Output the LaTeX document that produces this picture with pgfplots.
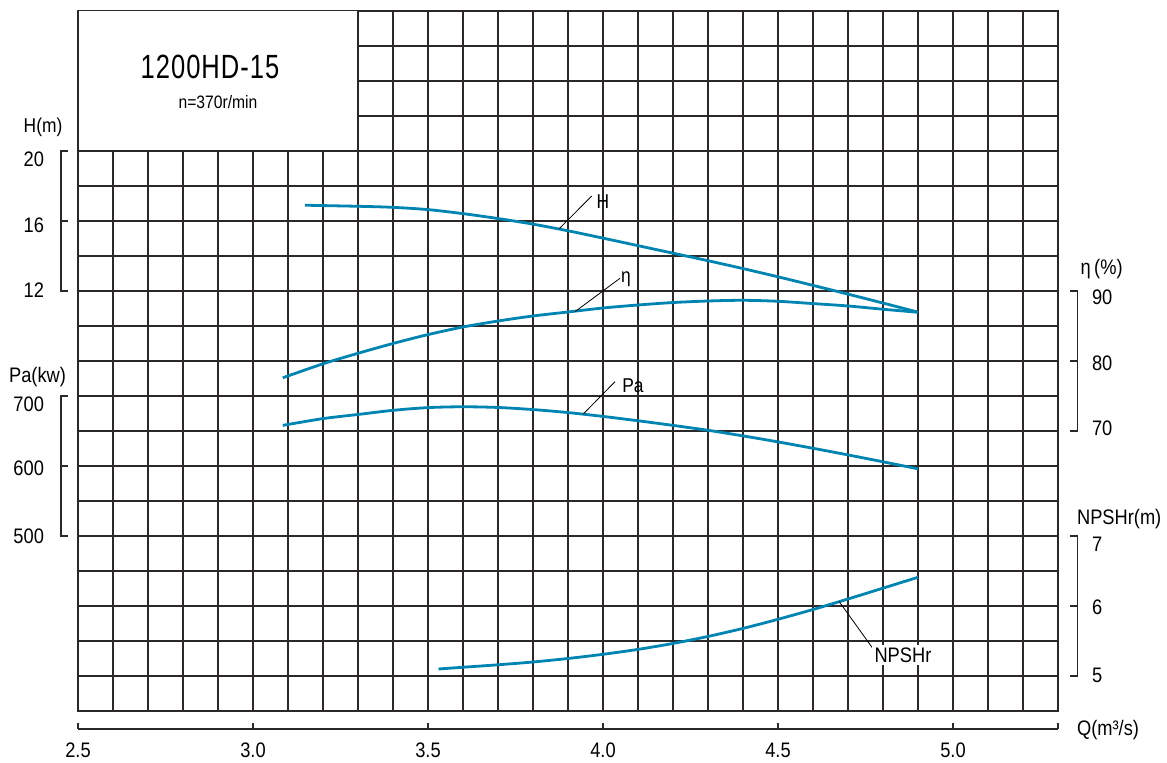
\documentclass[border=0pt]{standalone}
\usepackage{pgfplots}
\pgfplotsset{compat=1.18}
\usepackage{pgfplotstable}
\usepackage{fontspec}
\setmainfont[FakeStretch=0.87]{Liberation Sans}
\newfontfamily\titlefont[FakeStretch=0.76,LetterSpace=3]{Liberation Sans}
\definecolor{gridc}{RGB}{45,40,40}
\definecolor{curve}{RGB}{0,132,178}

% Q (m3/s) vs H (m)
\pgfplotstableread{
Q H
3.149 16.90
3.3 16.84
3.4 16.78
3.5 16.65
3.6 16.42
3.7 16.14
3.8 15.82
3.9 15.44
4.0 15.02
4.1 14.59
4.2 14.16
4.3 13.73
4.4 13.28
4.5 12.81
4.6 12.32
4.7 11.82
4.8 11.31
4.9 10.79
}\Hdata
% Q vs efficiency (%)
\pgfplotstableread{
Q E
3.085 77.6
3.2 79.6
3.3 81.1
3.4 82.5
3.5 83.77
3.6 84.86
3.7 85.71
3.8 86.43
3.9 87.0
4.0 87.57
4.1 88.0
4.2 88.35
4.3 88.57
4.4 88.67
4.5 88.53
4.6 88.2
4.7 87.86
4.8 87.39
4.9 86.96
}\Edata
% Q vs shaft power Pa (kW)
\pgfplotstableread{
Q P
3.085 658
3.2 667.7
3.3 673.6
3.4 679.5
3.5 683.4
3.6 684.6
3.7 683.6
3.8 680.6
3.9 676.3
4.0 670.8
4.1 664.6
4.2 658
4.3 651
4.4 643
4.5 634.4
4.6 625.3
4.7 615.8
4.8 606
4.9 596
}\Pdata
% Q vs NPSHr (m)
\pgfplotstableread{
Q N
3.53 5.10
3.6 5.125
3.7 5.16
3.8 5.20
3.9 5.25
4.0 5.31
4.1 5.38
4.2 5.465
4.3 5.565
4.4 5.68
4.5 5.81
4.6 5.95
4.7 6.10
4.8 6.255
4.9 6.41
}\Ndata

\begin{document}
\begin{tikzpicture}
\begin{axis}[
  x=175pt, y=17.5pt,
  xmin=2.5, xmax=5.3, ymin=0, ymax=20,
  xtick distance=0.1, ytick distance=1,
  grid=major,
  major grid style={draw=gridc, line width=0.6pt},
  axis line style={draw=gridc, line width=0.6pt},
  major tick length=0pt,
  xticklabels={}, yticklabels={},
  clip=false,
]
% title box
\filldraw[fill=white, draw=gridc, line width=0.6pt] (axis cs:2.5,16) rectangle (axis cs:3.3,20.02);
\node[font=\titlefont\fontsize{16.8}{18}\selectfont] at (axis cs:2.8771,18.4) {1200HD-15};
\node[font=\fontsize{9}{10}\selectfont] at (axis cs:2.9,17.4) {n=370r/min};

% curves
\addplot[curve, line width=1.4pt, smooth] table[x=Q, y expr={(\thisrow{H}+12)/2}] {\Hdata};
\addplot[curve, line width=1.4pt, smooth] table[x=Q, y expr={8+(\thisrow{E}-70)/5}] {\Edata};
\addplot[curve, line width=1.4pt, smooth] table[x=Q, y expr={5+(\thisrow{P}-500)/50}] {\Pdata};
\addplot[curve, line width=1.4pt, smooth] table[x=Q, y expr={1+(\thisrow{N}-5)*2}] {\Ndata};

% curve labels
\draw[black, line width=0.4pt] (axis cs:3.875,13.78) -- (axis cs:3.9677,14.714);
\node[font=\fontsize{10}{11}\selectfont] at (axis cs:4.0,14.54) {H};
\draw[black, line width=0.4pt] (axis cs:3.92,11.409) -- (axis cs:4.0486,12.363);
\node[font=\fontsize{10}{11}\selectfont] at (axis cs:4.0657,12.33) {η};
\draw[black, line width=0.4pt] (axis cs:3.9437,8.486) -- (axis cs:4.0343,9.409);
\node[font=\fontsize{10}{11}\selectfont] at (axis cs:4.0857,9.286) {Pa};
\draw[black, line width=0.4pt] (axis cs:4.675,3.123) -- (axis cs:4.7706,1.79);
\node[fill=white, inner sep=1.5pt, font=\fontsize{10.5}{12}\selectfont] at (axis cs:4.857,1.6) {NPSHr};

% left scales
\draw[gridc, line width=0.6pt] (axis cs:2.4706,16) -- (axis cs:2.4514,16) -- (axis cs:2.4514,12) -- (axis cs:2.4706,12);
\draw[gridc, line width=0.6pt] (axis cs:2.4514,14) -- (axis cs:2.4706,14);
\node[font=\fontsize{10}{11}\selectfont] at (axis cs:2.4,16.686) {H(m)};
\node[anchor=east, font=\fontsize{10.5}{12}\selectfont] at (axis cs:2.4229,15.77) {20};
\node[anchor=east, font=\fontsize{10.5}{12}\selectfont] at (axis cs:2.4229,13.886) {16};
\node[anchor=east, font=\fontsize{10.5}{12}\selectfont] at (axis cs:2.4229,12.01) {12};

\draw[gridc, line width=0.6pt] (axis cs:2.4706,9) -- (axis cs:2.4514,9) -- (axis cs:2.4514,5) -- (axis cs:2.4706,5);
\draw[gridc, line width=0.6pt] (axis cs:2.4514,7) -- (axis cs:2.4706,7);
\node[font=\fontsize{10.5}{12}\selectfont] at (axis cs:2.3843,9.543) {Pa(kw)};
\node[anchor=east, font=\fontsize{10.5}{12}\selectfont] at (axis cs:2.4229,8.77) {700};
\node[anchor=east, font=\fontsize{10.5}{12}\selectfont] at (axis cs:2.4229,6.94) {600};
\node[anchor=east, font=\fontsize{10.5}{12}\selectfont] at (axis cs:2.4229,5.0) {500};

% right scales
\draw[gridc, line width=0.6pt] (axis cs:5.3343,12) -- (axis cs:5.3563,12) -- (axis cs:5.3563,8) -- (axis cs:5.3343,8);
\draw[gridc, line width=0.6pt] (axis cs:5.3563,10) -- (axis cs:5.3343,10);
\node[anchor=west, font=\fontsize{10.5}{12}\selectfont] at (axis cs:5.3443,12.63) {η\,(\%)};
\node[anchor=west, font=\fontsize{10.5}{12}\selectfont] at (axis cs:5.3771,11.81) {90};
\node[anchor=west, font=\fontsize{10.5}{12}\selectfont] at (axis cs:5.3771,9.94) {80};
\node[anchor=west, font=\fontsize{10.5}{12}\selectfont] at (axis cs:5.3771,8.09) {70};

\draw[gridc, line width=0.6pt] (axis cs:5.3343,5) -- (axis cs:5.3563,5) -- (axis cs:5.3563,1) -- (axis cs:5.3343,1);
\draw[gridc, line width=0.6pt] (axis cs:5.3563,3) -- (axis cs:5.3343,3);
\node[anchor=west, font=\fontsize{10.5}{12}\selectfont] at (axis cs:5.3343,5.486) {NPSHr(m)};
\node[anchor=west, font=\fontsize{10.5}{12}\selectfont] at (axis cs:5.3771,4.77) {7};
\node[anchor=west, font=\fontsize{10.5}{12}\selectfont] at (axis cs:5.3771,2.957) {6};
\node[anchor=west, font=\fontsize{10.5}{12}\selectfont] at (axis cs:5.3771,1.03) {5};

% bottom Q scale
\draw[gridc, line width=0.6pt] (axis cs:2.5,-0.514) -- (axis cs:5.3,-0.514);
\draw[gridc, line width=0.6pt] (axis cs:2.5,-0.514) -- (axis cs:2.5,-0.334);
\draw[gridc, line width=0.6pt] (axis cs:3.0,-0.514) -- (axis cs:3.0,-0.334);
\draw[gridc, line width=0.6pt] (axis cs:3.5,-0.514) -- (axis cs:3.5,-0.334);
\draw[gridc, line width=0.6pt] (axis cs:4.0,-0.514) -- (axis cs:4.0,-0.334);
\draw[gridc, line width=0.6pt] (axis cs:4.5,-0.514) -- (axis cs:4.5,-0.334);
\draw[gridc, line width=0.6pt] (axis cs:5.0,-0.514) -- (axis cs:5.0,-0.334);
\draw[gridc, line width=0.6pt] (axis cs:5.3,-0.514) -- (axis cs:5.3,-0.334);
\node[font=\fontsize{10.5}{12}\selectfont] at (axis cs:2.5,-1.114) {2.5};
\node[font=\fontsize{10.5}{12}\selectfont] at (axis cs:3.0,-1.114) {3.0};
\node[font=\fontsize{10.5}{12}\selectfont] at (axis cs:3.5,-1.114) {3.5};
\node[font=\fontsize{10.5}{12}\selectfont] at (axis cs:4.0,-1.114) {4.0};
\node[font=\fontsize{10.5}{12}\selectfont] at (axis cs:4.5,-1.114) {4.5};
\node[font=\fontsize{10.5}{12}\selectfont] at (axis cs:5.0,-1.114) {5.0};
\node[anchor=west, font=\fontsize{10.5}{12}\selectfont] at (axis cs:5.3343,-0.543) {Q(m³/s)};

\coordinate (bbSW) at (axis cs:2.2771,-1.4857);
\coordinate (bbNE) at (axis cs:5.6114,20.314);
\end{axis}
\pgfresetboundingbox
\useasboundingbox (bbSW) rectangle (bbNE);
\end{tikzpicture}
\end{document}
